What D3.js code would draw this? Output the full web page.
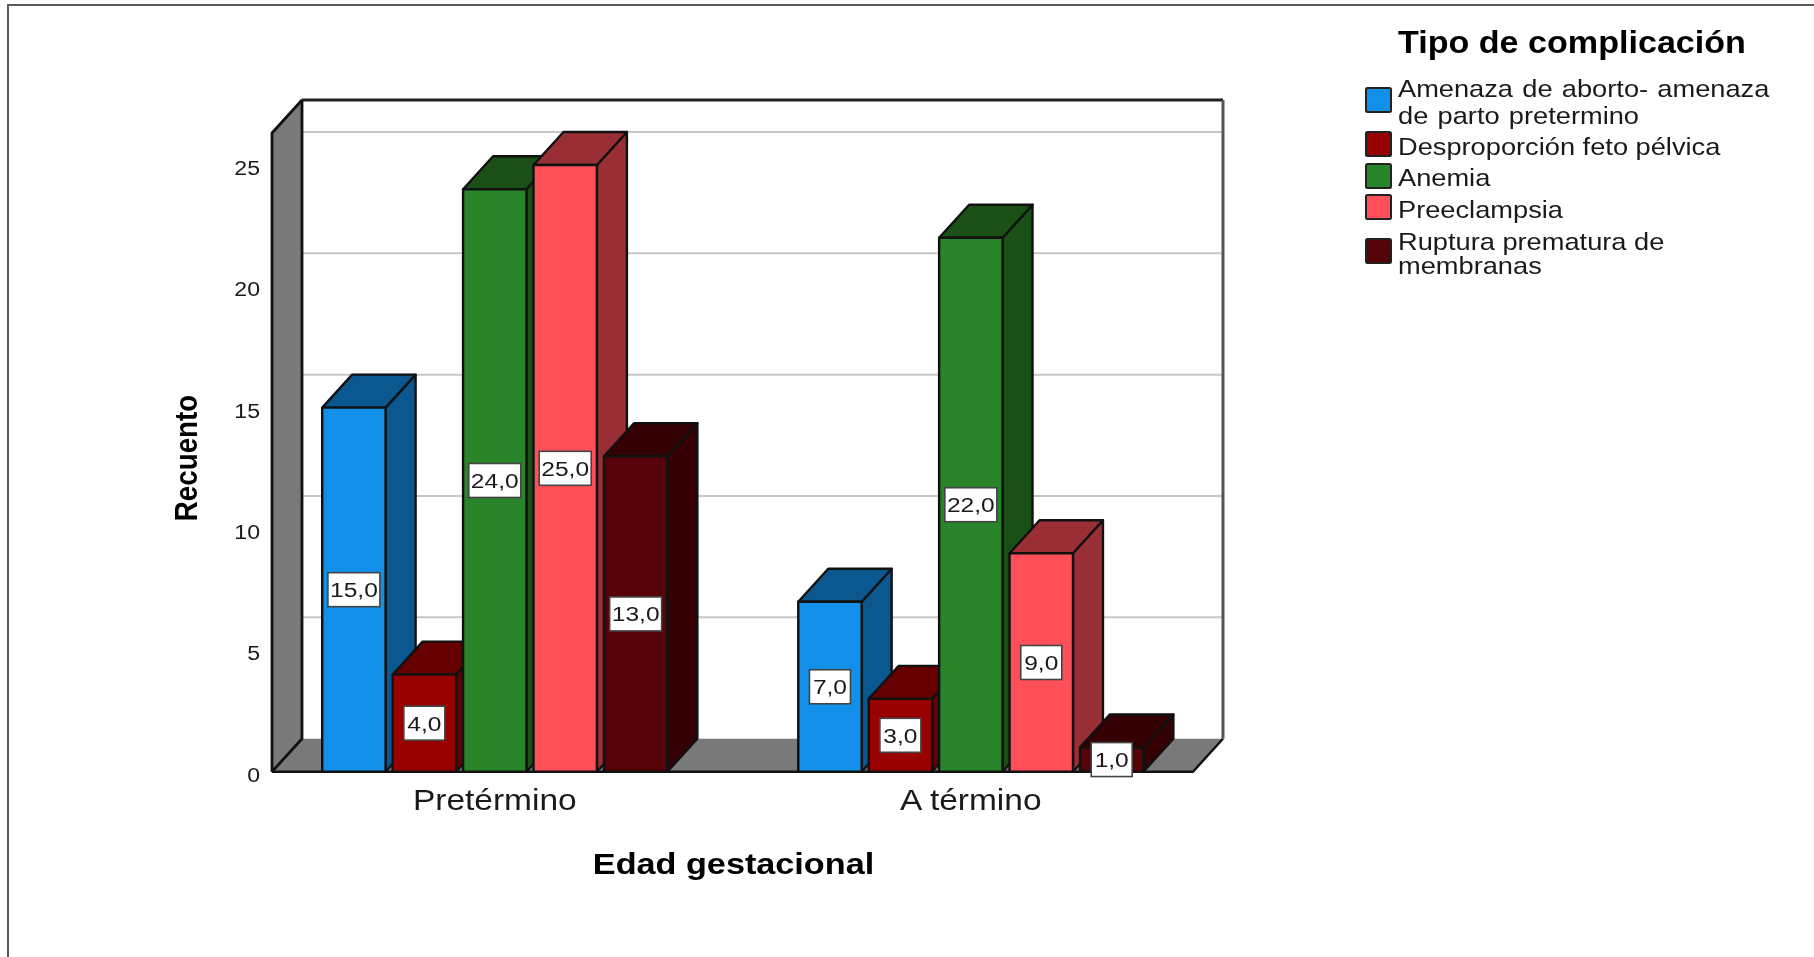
<!DOCTYPE html>
<html><head><meta charset="utf-8">
<script src="https://cdn.jsdelivr.net/npm/d3@7/dist/d3.min.js"></script>
<style>html,body{margin:0;padding:0;background:#fff}svg{display:block;filter:blur(0.4px)}text{font-family:"Liberation Sans",Arial,sans-serif;fill:#1a1a1a}</style>
</head><body><svg id="c" width="1814" height="957"></svg>
<script>
const categories = ["Pretérmino", "A término"];
const seriesNames = ["Amenaza de aborto- amenaza de parto pretermino", "Desproporción feto pélvica", "Anemia", "Preeclampsia", "Ruptura prematura de membranas"];
const amenazaValues = [15, 7];
const desproporcionValues = [4, 3];
const anemiaValues = [24, 22];
const preeclampsiaValues = [25, 9];
const rupturaValues = [13, 1];
const yTicks = [0, 5, 10, 15, 20, 25];
const frontColors = ["#118fe9", "#990000", "#2a8429", "#ff4f59", "#550308"];
const sideColors = ["#0a588f", "#660000", "#1a5016", "#992f35", "#340003"];
const legendLines = [["Amenaza de aborto- amenaza", "de parto pretermino"], ["Desproporción feto pélvica"], ["Anemia"], ["Preeclampsia"], ["Ruptura prematura de", "membranas"]];
const seriesValues = [amenazaValues, desproporcionValues, anemiaValues, preeclampsiaValues, rupturaValues];

const svg = d3.select("#c");
const dx = 30, dy = 33;
const left = 272, right = 1193, base = 771.7, unit = 24.27, topY = 133;
const y = d3.scaleLinear().domain([0, 25]).range([base, base - 25 * unit]);
const x0 = d3.scaleBand().domain(categories).range([322.2, 1143.4]).paddingInner(0.275);
const x1 = d3.scaleBand().domain(d3.range(seriesNames.length)).range([0, x0.bandwidth()]).paddingInner(0.1);

// the reference's glyphs are stretched sideways, so text is widened rather than spaced
function stretched(px, py, sx, size, str, anchor) {
  return svg.append("text")
    .attr("transform", `translate(${px},${py}) scale(${sx},1)`)
    .attr("text-anchor", anchor || "start").attr("font-size", size).text(str);
}

// frame
svg.append("path").attr("d", "M8,957V5H1814").attr("fill", "none").attr("stroke", "#5a5a5a").attr("stroke-width", 2);

// back wall, walls, floor
svg.selectAll(".grid").data(yTicks.slice(1)).join("line").attr("class", "grid")
  .attr("x1", left + dx).attr("x2", right + dx).attr("y1", d => y(d) - dy).attr("y2", d => y(d) - dy)
  .attr("stroke", "#c6c6c6").attr("stroke-width", 2);
svg.append("polygon").attr("points", `${left},${base} ${left+dx},${base-dy} ${right+dx},${base-dy} ${right},${base}`)
  .attr("fill", "#797979").attr("stroke", "none");
svg.append("path").attr("d", `M${left},${base}H${right}L${right+dx},${base-dy}`).attr("fill", "none").attr("stroke", "#111").attr("stroke-width", 2.4);
svg.append("polygon").attr("points", `${left},${topY} ${left+dx},${topY-dy} ${left+dx},${base-dy} ${left},${base}`)
  .attr("fill", "#797979").attr("stroke", "#111").attr("stroke-width", 2.8).attr("stroke-linejoin", "bevel");
svg.append("path").attr("d", `M${left+dx},${topY-dy}H${right+dx}`).attr("stroke", "#222").attr("stroke-width", 3);
svg.append("path").attr("d", `M${right+dx},${topY-dy}V${base-dy}`).attr("stroke", "#555").attr("stroke-width", 3);

// bars
categories.forEach((cat, ci) => {
  const g = svg.append("g");
  seriesValues.forEach((vals, si) => {
    const X = x0(cat) + x1(si), w = x1.bandwidth(), t = y(vals[ci]), b = y(0);
    const s = g.append("g").attr("stroke", "#111").attr("stroke-width", 2.4).attr("stroke-linejoin", "round");
    s.append("polygon").attr("points", `${X+w},${t} ${X+w+dx},${t-dy} ${X+w+dx},${b-dy} ${X+w},${b}`).attr("fill", sideColors[si]);
    s.append("polygon").attr("points", `${X},${t} ${X+dx},${t-dy} ${X+w+dx},${t-dy} ${X+w},${t}`).attr("fill", sideColors[si]);
    s.append("rect").attr("x", X).attr("y", t).attr("width", w).attr("height", b - t).attr("fill", frontColors[si]);
  });
});
// value labels
categories.forEach((cat, ci) => {
  seriesValues.forEach((vals, si) => {
    const v = vals[ci];
    const cx = x0(cat) + x1(si) + x1.bandwidth() / 2, cy = y(v / 2);
    const label = d3.format(".1f")(v).replace(".", ",");
    const bw = label.length > 3 ? 52 : 41;
    svg.append("rect").attr("x", cx - bw / 2).attr("y", cy - 17).attr("width", bw).attr("height", 34)
      .attr("fill", "#fff").attr("stroke", "#444").attr("stroke-width", 1.6);
    stretched(cx, cy + 7.5, 1.17, 21, label, "middle");
  });
});

// y axis
const axisY = svg.append("g").attr("transform", `translate(${left-12},0.6)`)
  .call(d3.axisLeft(y).tickValues(yTicks).tickSize(0).tickPadding(0).tickFormat(d3.format("d")));
axisY.select(".domain").remove();
axisY.selectAll("text").attr("font-size", 21).attr("font-family", null).attr("transform", "scale(1.1,1)")
  .style("fill", "#1a1a1a").attr("dy", "0.42em");

// x axis labels
categories.forEach(c => stretched(x0(c) + x0.bandwidth() / 2, 810, 1.155, 29, c, "middle"));

stretched(733.5, 874, 1.18, 29, "Edad gestacional", "middle").attr("font-weight", "bold").style("fill", "#000");
svg.append("text").attr("transform", "translate(197,458) rotate(-90) scale(0.956,1.1)").attr("text-anchor", "middle")
  .attr("font-size", 29).attr("font-weight", "bold").style("fill", "#000").text("Recuento");

// legend
stretched(1398, 53, 1.1, 31, "Tipo de complicación").attr("font-weight", "bold").style("fill", "#000");
const swatchTop = [88, 132, 164, 195, 239];
const lineBase = [[97, 124], [155], [186], [218], [250, 274]];
seriesNames.forEach((n, i) => {
  svg.append("rect").attr("x", 1366).attr("y", swatchTop[i]).attr("width", 25).attr("height", 24).attr("rx", 1.5)
    .attr("fill", frontColors[i]).attr("stroke", "#222").attr("stroke-width", 2);
  legendLines[i].forEach((t, k) => {
    stretched(1398, lineBase[i][k], 1.135, 24, t).attr("word-spacing", i === 0 ? 1.5 : 0);
  });
});
</script></body></html>
